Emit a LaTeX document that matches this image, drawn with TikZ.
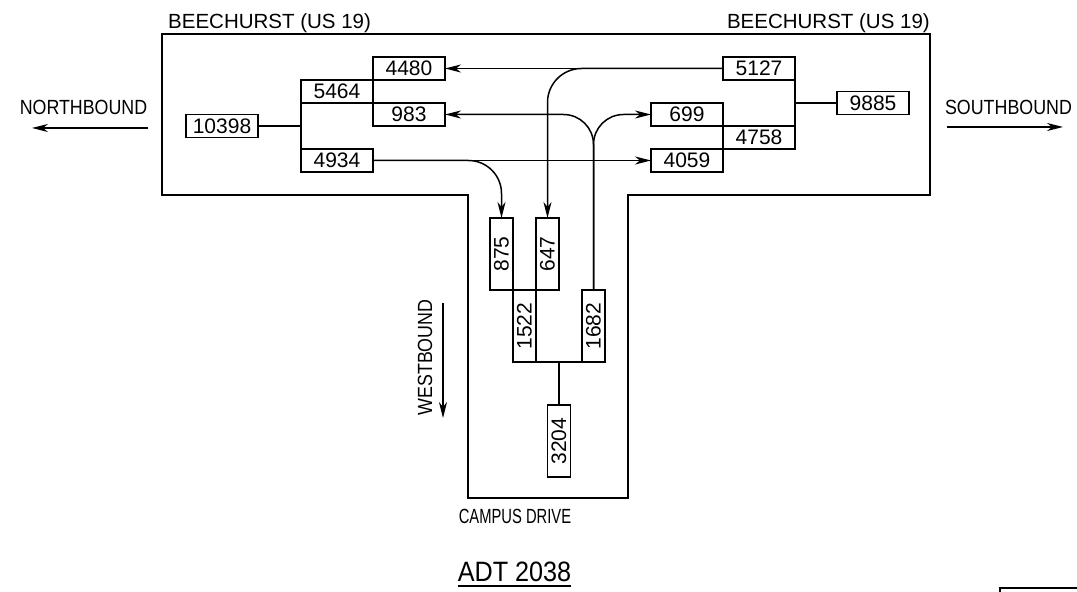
\documentclass[tikz,border=0pt]{standalone}
\usepackage{fontspec}
\setmainfont{Liberation Sans}
\usepackage{graphicx}
\usepackage{tikz}
\usetikzlibrary{positioning,calc,arrows.meta}

\begin{document}
\begin{tikzpicture}[
  x=1pt, y=1pt,
  box/.style={
    draw,
    line width=1.5pt,
    minimum width=72pt,
    minimum height=23pt,
    inner sep=0pt,
    outer sep=0pt,
    font=\fontsize{21}{24}\selectfont
  },
  vbox/.style={box, minimum width=23pt, minimum height=72pt},
  lbl/.style={inner sep=0pt, font=\fontsize{20.5}{24}\selectfont},
  wire/.style={draw, line width=1.5pt},
  line/.style={wire, -{Stealth[length=16pt,width=8pt,inset=5pt]}},
  road/.style={draw, line width=1.5pt}
]
\useasboundingbox (0,0) rectangle (1077,592);

\draw[road] (162,558) -- (930,558) -- (930,397) -- (628,397) -- (628,94)
  -- (468,94) -- (468,397) -- (162,397) -- cycle;

\node[box] (n5464) at (337,500.5) {5464};
\node[box, above right=0pt of n5464] (n4480) {4480};
\node[box, below right=0pt of n5464] (n983) {983};
\node[box, below=46pt of n5464] (n4934) {4934};
\coordinate (wjoin) at ($(n5464.south west)!0.5!(n4934.north west)$);
\node[box, left=43pt of wjoin] (n10398) {10398};

\node[box] (n4758) at (759,454.5) {4758};
\node[box, above left=0pt of n4758] (n699) {699};
\node[box, below left=0pt of n4758] (n4059) {4059};
\node[box, above=46pt of n4758] (n5127) {5127};
\coordinate (ejoin) at ($(n5127.south east)!0.5!(n4758.north east)$);
\node[box, right=42pt of ejoin] (n9885) {9885};

\node[vbox] (n1522) at (524.5,266) {\rotatebox{90}{1522}};
\node[vbox, above left=0pt of n1522] (n875) {\rotatebox{90}{875}};
\node[vbox, above right=0pt of n1522] (n647) {\rotatebox{90}{647}};
\node[vbox, right=46pt of n1522] (n1682) {\rotatebox{90}{1682}};
\coordinate (bus) at ($(n1522.south east)!0.5!(n1682.south west)$);
\node[vbox, below=43pt of bus] (n3204) {\rotatebox{90}{3204}};

\node[lbl, anchor=base west] (beechw) at (168,563) {BEECHURST (US 19)};
\node[lbl, anchor=base east] (beeche) at (930,563) {BEECHURST (US 19)};
\node[lbl, anchor=base] (northlbl) at (83.5,477) {\scalebox{0.87}[1]{NORTHBOUND}};
\node[lbl, anchor=base] (southlbl) at (1008.5,477) {\scalebox{0.87}[1]{SOUTHBOUND}};
\node[lbl, rotate=90] (westlbl) at (425,234.5) {\scalebox{0.87}[1]{WESTBOUND}};
\node[lbl] (campuslbl) at (515,76) {\scalebox{0.72}[1]{CAMPUS DRIVE}};
\node[lbl, font=\fontsize{28}{32}\selectfont] (adtlbl) at (514.5,20) {\scalebox{0.9}[1]{ADT 2038}};

\coordinate (nbtail) at (148,464);
\coordinate (nbhead) at (32,464);
\coordinate (sbtail) at (947,465);
\coordinate (sbhead) at (1063,465);
\coordinate (wbtail) at (443,289);
\coordinate (wbhead) at (443,174);

\draw[wire] (n10398.east) -- (wjoin);
\draw[wire] (n5464.south west) -- (n4934.north west);
\draw[wire] (n9885.west) -- (ejoin);
\draw[wire] (n5127.south east) -- (n4758.north east);
\draw[wire] (n1522.south east) -- (n1682.south west);
\draw[wire] (bus) -- (n3204.north);

\draw[line] (n5127.west) -- (n4480.east);
\draw[line, rounded corners=34pt] (n5127.west) -| (n647.north);
\draw[line, rounded corners=30pt] (n1682.north) |- (n983.east);
\draw[line, rounded corners=30pt] (n1682.north) |- (n699.west);
\draw[line] (n4934.east) -- (n4059.west);
\draw[line, rounded corners=33pt] (n4934.east) -| (n875.north);

\draw[line, line width=1.2pt] (nbtail) -- (nbhead);
\draw[line, line width=1.2pt] (sbtail) -- (sbhead);
\draw[line, line width=1.2pt] (wbtail) -- (wbhead);

\draw[wire, line width=2pt] ([yshift=-4pt]adtlbl.south west) -- ([yshift=-4pt]adtlbl.south east);
\draw[wire] (1000,0) |- (1077,4);
\end{tikzpicture}
\end{document}
